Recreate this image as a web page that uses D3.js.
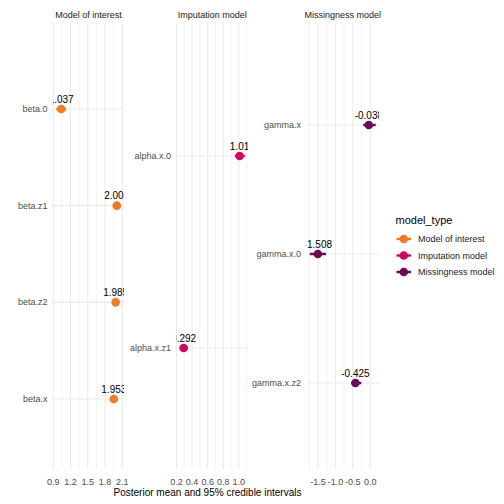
<!DOCTYPE html>
<html><head><meta charset="utf-8">
<script src="https://cdn.jsdelivr.net/npm/d3@7"></script>
<style>body{margin:0;background:#fff}svg{display:block;font-family:"Liberation Sans",Arial,sans-serif}</style>
</head><body><svg id="c" width="504" height="504"></svg>
<script>
// ---- data ----
const modelTypes = ["Model of interest", "Imputation model", "Missingness model"];
const colors = ["#F47A21", "#D4065C", "#6C0A52"];
const params = ["beta.0","beta.z1","beta.z2","beta.x","alpha.x.0","alpha.x.z1","gamma.x","gamma.x.0","gamma.x.z2"];
const paramType = [0,0,0,0,1,1,2,2,2];
const means  = [1.037, 2.004, 1.985, 1.953, 1.010, 0.292, -0.038, -1.508, -0.425];
const lowers = [0.951, 1.945, 1.930, 1.900, 0.950, 0.242, -0.200, -1.740, -0.545];
const uppers = [1.120, 2.074, 2.040, 2.010, 1.076, 0.345,  0.160, -1.270, -0.255];
const labels = ["1.037","2.004","1.985","1.953","1.01","0.292","-0.038","-1.508","-0.425"];
const majorTicks = [[0.9,1.2,1.5,1.8,2.1],[0.2,0.4,0.6,0.8,1.0],[-1.5,-1.0,-0.5,0.0]];
const minorTicks = [[1.05,1.35,1.65,1.95],[0.3,0.5,0.7,0.9,1.1],[-1.75,-1.25,-0.75,-0.25]];
const xTitle = "Posterior mean and 95% credible intervals";
const legendTitle = "model_type";

// ---- layout ----
const svg = d3.select("#c");
const panelX = [[53,124],[176.5,248],[306.5,379]];
const panelTop = 22.5, panelBottom = 469;
const pointRanges = [[109,399],[156,348],[125,383]];
const fmt = d3.formatLocale({decimal:".",thousands:",",grouping:[3],currency:["",""],minus:"-"}).format(".1f");
const gridCol = "#EBEBEB";

modelTypes.forEach((mt, p) => {
  const idx = params.map((d,i)=>i).filter(i => paramType[i] === p);
  const lo = d3.min(idx, i => lowers[i]), hi = d3.max(idx, i => uppers[i]);
  const pad = (hi - lo) * 0.05;
  const x = d3.scaleLinear().domain([lo - pad, hi + pad]).range(panelX[p]);
  const y = d3.scalePoint().domain(idx.map(i => params[i])).range(pointRanges[p]);
  const g = svg.append("g");
  const [x0, x1] = panelX[p];

  g.append("clipPath").attr("id","clip"+p).append("rect")
    .attr("x", x0).attr("y", panelTop).attr("width", x1-x0).attr("height", panelBottom-panelTop);

  g.selectAll(".mi").data(minorTicks[p]).join("line")
    .attr("x1", d=>x(d)).attr("x2", d=>x(d)).attr("y1", panelTop).attr("y2", panelBottom)
    .attr("stroke", gridCol).attr("stroke-width", 0.6);
  g.selectAll(".ma").data(majorTicks[p]).join("line")
    .attr("x1", d=>x(d)).attr("x2", d=>x(d)).attr("y1", panelTop).attr("y2", panelBottom)
    .attr("stroke", gridCol).attr("stroke-width", 1.1);
  g.selectAll(".hy").data(y.domain()).join("line")
    .attr("x1", x0).attr("x2", x1).attr("y1", d=>y(d)).attr("y2", d=>y(d))
    .attr("stroke", gridCol).attr("stroke-width", 1.1);

  g.append("text").attr("x", (x0+x1)/2).attr("y", 18).attr("text-anchor","middle")
    .attr("font-size", 9).attr("fill", "#1A1A1A").text(mt);

  g.selectAll(".xt").data(majorTicks[p]).join("text")
    .attr("x", d=>x(d)).attr("y", 485).attr("text-anchor","middle")
    .attr("font-size", 9).attr("fill", "#4D4D4D").text(d=>fmt(d));

  g.selectAll(".yt").data(y.domain()).join("text")
    .attr("x", x0 - 5.5).attr("y", d=>y(d)).attr("dy","0.35em").attr("text-anchor","end")
    .attr("font-size", 9).attr("fill", "#4D4D4D").text(d=>d);

  const marks = g.append("g").attr("clip-path", `url(#clip${p})`);
  marks.selectAll(".ci").data(idx).join("line")
    .attr("x1", i=>x(lowers[i])).attr("x2", i=>x(uppers[i]))
    .attr("y1", i=>y(params[i])).attr("y2", i=>y(params[i]))
    .attr("stroke", colors[p]).attr("stroke-width", 2.4);
  marks.selectAll(".pt").data(idx).join("circle")
    .attr("cx", i=>x(means[i])).attr("cy", i=>y(params[i])).attr("r", 4.3)
    .attr("fill", colors[p]);
  marks.selectAll(".lb").data(idx).join("text")
    .attr("x", i=>x(means[i])).attr("y", i=>y(params[i]) - 6.5).attr("text-anchor","middle")
    .attr("font-size", 10).attr("fill", "#000").text(i=>labels[i]);
});

svg.append("text").attr("x", 207.5).attr("y", 496).attr("text-anchor","middle")
  .attr("font-size", 10).attr("fill","#000").text(xTitle);

const lg = svg.append("g");
lg.append("text").attr("x", 395.5).attr("y", 224).attr("font-size", 11).attr("fill","#000").text(legendTitle);
const ly = d3.scalePoint().domain(modelTypes).range([239, 272]);
modelTypes.forEach((mt, k) => {
  const yy = ly(mt);
  lg.append("line").attr("x1", 396.5).attr("x2", 411).attr("y1", yy).attr("y2", yy)
    .attr("stroke", colors[k]).attr("stroke-width", 2.4);
  lg.append("circle").attr("cx", 403.8).attr("cy", yy).attr("r", 4.3).attr("fill", colors[k]);
  lg.append("text").attr("x", 418).attr("y", yy).attr("dy","0.35em").attr("font-size", 9)
    .attr("fill","#1A1A1A").text(mt);
});
</script></body></html>
